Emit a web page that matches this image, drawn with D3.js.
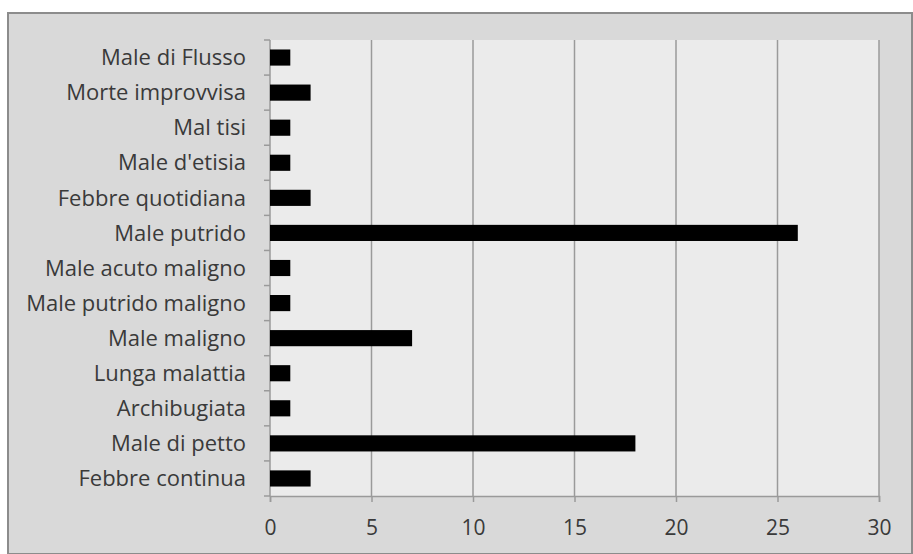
<!DOCTYPE html>
<html>
<head>
<meta charset="utf-8">
<script src="https://cdn.jsdelivr.net/npm/d3@7"></script>
<style>
  body { margin: 0; background: #fff; }
  svg { display: block; }
  .tick text { font-family: "Open Sans", "Noto Sans", sans-serif; fill: #3a3a3a; }
</style>
</head>
<body>
<div id="chart"></div>
<script>
const categories = [
  'Male di Flusso', 'Morte improvvisa', 'Mal tisi', "Male d'etisia",
  'Febbre quotidiana', 'Male putrido', 'Male acuto maligno', 'Male putrido maligno',
  'Male maligno', 'Lunga malattia', 'Archibugiata', 'Male di petto', 'Febbre continua'
];
const counts = [1, 2, 1, 1, 2, 26, 1, 1, 7, 1, 1, 18, 2];
const xTicks = [0, 5, 10, 15, 20, 25, 30];

const width = 913, height = 554;
const margin = { top: 40, right: 34, bottom: 58, left: 270 };
const innerW = width - margin.left - margin.right;
const innerH = height - margin.top - margin.bottom;

const svg = d3.select('#chart').append('svg')
  .attr('width', width)
  .attr('height', height);

// outer chart area
svg.append('rect')
  .attr('x', 8).attr('y', 13)
  .attr('width', 904).attr('height', 541)
  .attr('fill', '#d9d9d9')
  .attr('stroke', '#8c8c8c')
  .attr('stroke-width', 2);

const g = svg.append('g')
  .attr('transform', `translate(${margin.left},${margin.top})`);

g.append('rect')
  .attr('width', innerW).attr('height', innerH)
  .attr('fill', '#ebebeb');

const x = d3.scaleLinear().domain([0, 30]).range([0, innerW]);
const y = d3.scaleBand().domain(categories).range([0, innerH]).paddingInner(0.54).paddingOuter(0.27);

// gridlines
g.selectAll('line.grid')
  .data(xTicks.slice(1))
  .join('line')
  .attr('class', 'grid')
  .attr('x1', d => x(d)).attr('x2', d => x(d))
  .attr('y1', 0).attr('y2', innerH)
  .attr('stroke', '#9a9a9a')
  .attr('stroke-width', 1.5);

// x axis
const xAxis = g.append('g')
  .attr('transform', `translate(0,${innerH})`)
  .call(d3.axisBottom(x).tickValues(xTicks).tickSize(6).tickPadding(18));
xAxis.select('.domain').attr('stroke', '#9a9a9a').attr('stroke-width', 1.5);
xAxis.selectAll('.tick line').attr('stroke', '#9a9a9a').attr('stroke-width', 1.5);
xAxis.selectAll('.tick text').attr('font-size', 21);

// y axis: ticks at category boundaries
const yAxis = g.append('g');
yAxis.append('line')
  .attr('x1', 0).attr('x2', 0).attr('y1', 0).attr('y2', innerH)
  .attr('stroke', '#9a9a9a').attr('stroke-width', 1.5);
const step = innerH / categories.length;
yAxis.selectAll('line.btick')
  .data(d3.range(categories.length + 1))
  .join('line')
  .attr('class', 'btick')
  .attr('x1', -6).attr('x2', 0)
  .attr('y1', i => i * step).attr('y2', i => i * step)
  .attr('stroke', '#9a9a9a').attr('stroke-width', 1.5);
yAxis.selectAll('text')
  .data(categories)
  .join('text')
  .attr('x', -24)
  .attr('y', d => y(d) + y.bandwidth() / 2)
  .attr('dy', '0.35em')
  .attr('text-anchor', 'end')
  .attr('font-family', '"Open Sans", "Noto Sans", sans-serif')
  .attr('font-size', 22)
  .attr('fill', '#3a3a3a')
  .text(d => d);

// bars
g.selectAll('rect.bar')
  .data(categories.map((c, i) => ({ c, v: counts[i] })))
  .join('rect')
  .attr('class', 'bar')
  .attr('x', 0)
  .attr('y', d => y(d.c))
  .attr('width', d => x(d.v))
  .attr('height', y.bandwidth())
  .attr('fill', '#000');
</script>
</body>
</html>
